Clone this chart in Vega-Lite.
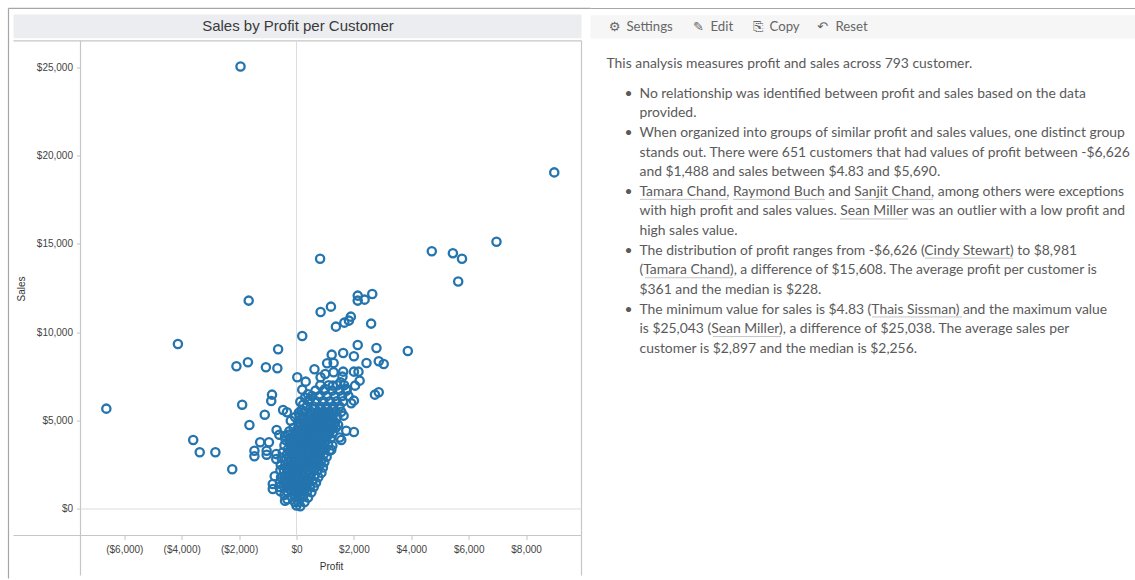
{"$schema":"https://vega.github.io/schema/vega-lite/v6.json","padding":{"left":7.5,"top":7.5,"right":0,"bottom":0},"background":"white","bounds":"flush","spacing":9,"config":{"view":{"stroke":null},"concat":{"spacing":9}},"datasets":{"customers":[{"p":-1951,"s":25043},{"p":8981,"s":19052},{"p":822,"s":14160},{"p":4714,"s":14590},{"p":5449,"s":14480},{"p":5766,"s":14160},{"p":6968,"s":15123},{"p":5634,"s":12877},{"p":-6626,"s":5680},{"p":-4132,"s":9341},{"p":-1666,"s":11794},{"p":840,"s":11152},{"p":1200,"s":11454},{"p":2133,"s":12077},{"p":2639,"s":12171},{"p":2133,"s":11794},{"p":2373,"s":11850},{"p":1893,"s":10888},{"p":1826,"s":10662},{"p":1666,"s":10548},{"p":1373,"s":10322},{"p":2600,"s":10492},{"p":200,"s":9794},{"p":-640,"s":9039},{"p":-2093,"s":8076},{"p":-1693,"s":8303},{"p":-1066,"s":8020},{"p":-667,"s":7963},{"p":3879,"s":8945},{"p":2133,"s":9284},{"p":2786,"s":9114},{"p":2000,"s":8642},{"p":1626,"s":8831},{"p":1226,"s":8737},{"p":2866,"s":8360},{"p":3039,"s":8208},{"p":2439,"s":8265},{"p":626,"s":7906},{"p":1066,"s":8246},{"p":1293,"s":8265},{"p":27,"s":7454},{"p":320,"s":7208},{"p":840,"s":7454},{"p":1000,"s":7643},{"p":1293,"s":7737},{"p":1626,"s":7774},{"p":2000,"s":7774},{"p":2160,"s":7774},{"p":1600,"s":7492},{"p":2200,"s":7265},{"p":2040,"s":6982},{"p":200,"s":6756},{"p":1000,"s":6793},{"p":1266,"s":6982},{"p":1533,"s":7170},{"p":1733,"s":6793},{"p":2866,"s":6605},{"p":2733,"s":6473},{"p":-853,"s":6473},{"p":-880,"s":6114},{"p":133,"s":6076},{"p":466,"s":6227},{"p":2000,"s":6133},{"p":1906,"s":5982},{"p":-1893,"s":5906},{"p":-467,"s":5604},{"p":-333,"s":5472},{"p":-1106,"s":5340},{"p":1640,"s":5284},{"p":-200,"s":5000},{"p":-1640,"s":4755},{"p":-693,"s":4472},{"p":-600,"s":4208},{"p":-400,"s":4151},{"p":1733,"s":4434},{"p":2000,"s":4359},{"p":-3599,"s":3906},{"p":-3372,"s":3208},{"p":-2826,"s":3208},{"p":-2239,"s":2245},{"p":-1266,"s":3774},{"p":-960,"s":3774},{"p":-1466,"s":3302},{"p":-1466,"s":2981},{"p":-1040,"s":3302},{"p":-1040,"s":3076},{"p":-706,"s":3113},{"p":-706,"s":2830},{"p":-760,"s":1849},{"p":-826,"s":1415},{"p":-826,"s":1132},{"p":-400,"s":472},{"p":1213,"s":3359},{"p":0,"s":200},{"p":-60,"s":400},{"p":70,"s":400},{"p":-170,"s":700},{"p":-30,"s":700},{"p":110,"s":700},{"p":230,"s":700},{"p":-330,"s":1000},{"p":-180,"s":1000},{"p":-40,"s":1000},{"p":100,"s":1000},{"p":240,"s":1000},{"p":370,"s":1000},{"p":-450,"s":1300},{"p":-300,"s":1300},{"p":-150,"s":1300},{"p":0,"s":1300},{"p":150,"s":1300},{"p":310,"s":1300},{"p":470,"s":1300},{"p":-420,"s":1600},{"p":-270,"s":1600},{"p":-100,"s":1600},{"p":60,"s":1600},{"p":220,"s":1600},{"p":390,"s":1600},{"p":550,"s":1600},{"p":-400,"s":1900},{"p":-230,"s":1900},{"p":-70,"s":1900},{"p":90,"s":1900},{"p":260,"s":1900},{"p":430,"s":1900},{"p":620,"s":1900},{"p":-440,"s":2200},{"p":-280,"s":2200},{"p":-110,"s":2200},{"p":70,"s":2200},{"p":240,"s":2200},{"p":410,"s":2200},{"p":590,"s":2200},{"p":740,"s":2200},{"p":-390,"s":2500},{"p":-210,"s":2500},{"p":-40,"s":2500},{"p":130,"s":2500},{"p":300,"s":2500},{"p":480,"s":2500},{"p":650,"s":2500},{"p":800,"s":2500},{"p":-360,"s":2800},{"p":-180,"s":2800},{"p":0,"s":2800},{"p":180,"s":2800},{"p":350,"s":2800},{"p":530,"s":2800},{"p":700,"s":2800},{"p":870,"s":2800},{"p":-330,"s":3100},{"p":-140,"s":3100},{"p":40,"s":3100},{"p":220,"s":3100},{"p":400,"s":3100},{"p":590,"s":3100},{"p":780,"s":3100},{"p":950,"s":3100},{"p":-290,"s":3400},{"p":-100,"s":3400},{"p":80,"s":3400},{"p":260,"s":3400},{"p":450,"s":3400},{"p":640,"s":3400},{"p":830,"s":3400},{"p":1000,"s":3400},{"p":-230,"s":3700},{"p":-40,"s":3700},{"p":140,"s":3700},{"p":330,"s":3700},{"p":520,"s":3700},{"p":710,"s":3700},{"p":900,"s":3700},{"p":1100,"s":3700},{"p":-190,"s":4000},{"p":20,"s":4000},{"p":210,"s":4000},{"p":400,"s":4000},{"p":590,"s":4000},{"p":780,"s":4000},{"p":980,"s":4000},{"p":1190,"s":4000},{"p":-60,"s":4300},{"p":120,"s":4300},{"p":310,"s":4300},{"p":510,"s":4300},{"p":700,"s":4300},{"p":900,"s":4300},{"p":1100,"s":4300},{"p":1270,"s":4300},{"p":60,"s":4600},{"p":250,"s":4600},{"p":440,"s":4600},{"p":640,"s":4600},{"p":840,"s":4600},{"p":1040,"s":4600},{"p":1240,"s":4600},{"p":1370,"s":4600},{"p":130,"s":4900},{"p":330,"s":4900},{"p":520,"s":4900},{"p":720,"s":4900},{"p":930,"s":4900},{"p":1130,"s":4900},{"p":1340,"s":4900},{"p":240,"s":5200},{"p":420,"s":5200},{"p":630,"s":5200},{"p":830,"s":5200},{"p":1040,"s":5200},{"p":1250,"s":5200},{"p":1420,"s":5200},{"p":290,"s":5500},{"p":500,"s":5500},{"p":740,"s":5500},{"p":950,"s":5500},{"p":1150,"s":5500},{"p":1360,"s":5500},{"p":1560,"s":5500},{"p":360,"s":5800},{"p":590,"s":5800},{"p":820,"s":5800},{"p":1040,"s":5800},{"p":1280,"s":5800},{"p":1500,"s":5800},{"p":430,"s":6100},{"p":680,"s":6100},{"p":930,"s":6100},{"p":1170,"s":6100},{"p":1400,"s":6100},{"p":1620,"s":6100},{"p":540,"s":6400},{"p":800,"s":6400},{"p":1060,"s":6400},{"p":1330,"s":6400},{"p":1590,"s":6400},{"p":1810,"s":6400},{"p":660,"s":6700},{"p":950,"s":6700},{"p":1240,"s":6700},{"p":1500,"s":6700},{"p":1750,"s":6700},{"p":830,"s":7000},{"p":1120,"s":7000},{"p":1420,"s":7000},{"p":1660,"s":7000},{"p":-100,"s":850},{"p":40,"s":850},{"p":170,"s":850},{"p":-250,"s":1150},{"p":-110,"s":1150},{"p":30,"s":1150},{"p":170,"s":1150},{"p":310,"s":1150},{"p":-370,"s":1450},{"p":-220,"s":1450},{"p":-70,"s":1450},{"p":80,"s":1450},{"p":230,"s":1450},{"p":390,"s":1450},{"p":-340,"s":1750},{"p":-180,"s":1750},{"p":-20,"s":1750},{"p":140,"s":1750},{"p":300,"s":1750},{"p":470,"s":1750},{"p":-310,"s":2050},{"p":-150,"s":2050},{"p":10,"s":2050},{"p":170,"s":2050},{"p":340,"s":2050},{"p":520,"s":2050},{"p":-360,"s":2350},{"p":-190,"s":2350},{"p":-20,"s":2350},{"p":150,"s":2350},{"p":320,"s":2350},{"p":500,"s":2350},{"p":670,"s":2350},{"p":-300,"s":2650},{"p":-120,"s":2650},{"p":50,"s":2650},{"p":220,"s":2650},{"p":390,"s":2650},{"p":570,"s":2650},{"p":740,"s":2650},{"p":-270,"s":2950},{"p":-90,"s":2950},{"p":90,"s":2950},{"p":270,"s":2950},{"p":440,"s":2950},{"p":620,"s":2950},{"p":790,"s":2950},{"p":-240,"s":3250},{"p":-50,"s":3250},{"p":130,"s":3250},{"p":310,"s":3250},{"p":500,"s":3250},{"p":690,"s":3250},{"p":870,"s":3250},{"p":-190,"s":3550},{"p":-10,"s":3550},{"p":170,"s":3550},{"p":360,"s":3550},{"p":550,"s":3550},{"p":740,"s":3550},{"p":930,"s":3550},{"p":-130,"s":3850},{"p":50,"s":3850},{"p":240,"s":3850},{"p":430,"s":3850},{"p":620,"s":3850},{"p":810,"s":3850},{"p":1010,"s":3850},{"p":-100,"s":4150},{"p":110,"s":4150},{"p":300,"s":4150},{"p":490,"s":4150},{"p":680,"s":4150},{"p":880,"s":4150},{"p":1080,"s":4150},{"p":30,"s":4450},{"p":210,"s":4450},{"p":400,"s":4450},{"p":600,"s":4450},{"p":800,"s":4450},{"p":1000,"s":4450},{"p":1190,"s":4450},{"p":150,"s":4750},{"p":340,"s":4750},{"p":540,"s":4750},{"p":740,"s":4750},{"p":940,"s":4750},{"p":1130,"s":4750},{"p":1300,"s":4750},{"p":230,"s":5050},{"p":430,"s":5050},{"p":620,"s":5050},{"p":830,"s":5050},{"p":1030,"s":5050},{"p":1240,"s":5050},{"p":530,"s":5350},{"p":730,"s":5350},{"p":940,"s":5350},{"p":1140,"s":5350},{"p":620,"s":5650},{"p":850,"s":5650},{"p":1060,"s":5650},{"p":1260,"s":5650},{"p":100,"s":5300},{"p":-50,"s":5200},{"p":180,"s":5600},{"p":80,"s":5450},{"p":230,"s":5900},{"p":300,"s":6300},{"p":400,"s":6500},{"p":60,"s":4900},{"p":-100,"s":4600},{"p":-250,"s":4400},{"p":-300,"s":4200},{"p":-380,"s":3900},{"p":-420,"s":3600},{"p":-480,"s":3200},{"p":-520,"s":2900},{"p":-550,"s":2500},{"p":-560,"s":2200},{"p":-540,"s":1800},{"p":-580,"s":1500},{"p":-600,"s":1250},{"p":-560,"s":1000},{"p":-420,"s":800},{"p":-320,"s":550},{"p":1250,"s":3600},{"p":1150,"s":3300},{"p":1050,"s":2950},{"p":970,"s":2650},{"p":920,"s":2350},{"p":870,"s":2050},{"p":760,"s":1800},{"p":680,"s":1500},{"p":600,"s":1250},{"p":520,"s":950},{"p":400,"s":650},{"p":280,"s":400},{"p":130,"s":150},{"p":1500,"s":4050},{"p":1450,"s":4750},{"p":1560,"s":3900}],"lines":[{"col":16,"row":0,"t":"This analysis measures profit and sales across 793 customer."},{"col":34,"row":1.5,"t":"•"},{"col":49,"row":1.5,"t":"No relationship was identified between profit and sales based on the data"},{"col":49,"row":2.5,"t":"provided."},{"col":34,"row":3.5,"t":"•"},{"col":49,"row":3.5,"t":"When organized into groups of similar profit and sales values, one distinct group"},{"col":49,"row":4.5,"t":"stands out. There were 651 customers that had values of profit between -$6,626"},{"col":49,"row":5.5,"t":"and $1,488 and sales between $4.83 and $5,690."},{"col":34,"row":6.5,"t":"•"},{"col":49,"row":6.5,"t":"Tamara Chand, Raymond Buch and Sanjit Chand, among others were exceptions"},{"col":49,"row":7.5,"t":"with high profit and sales values. Sean Miller was an outlier with a low profit and"},{"col":49,"row":8.5,"t":"high sales value."},{"col":34,"row":9.5,"t":"•"},{"col":49,"row":9.5,"t":"The distribution of profit ranges from -$6,626 (Cindy Stewart) to $8,981"},{"col":49,"row":10.5,"t":"(Tamara Chand), a difference of $15,608. The average profit per customer is"},{"col":49,"row":11.5,"t":"$361 and the median is $228."},{"col":34,"row":12.5,"t":"•"},{"col":49,"row":12.5,"t":"The minimum value for sales is $4.83 (Thais Sissman) and the maximum value"},{"col":49,"row":13.5,"t":"is $25,043 (Sean Miller), a difference of $25,038. The average sales per"},{"col":49,"row":14.5,"t":"customer is $2,897 and the median is $2,256."}],"links":[{"c1":50,"c2":137,"row":6.88},{"c1":143,"c2":235,"row":6.88},{"c1":265,"c2":343,"row":6.88},{"c1":250,"c2":318,"row":7.88},{"c1":335,"c2":423,"row":9.88},{"c1":55,"c2":142,"row":10.88},{"c1":282,"c2":371,"row":12.88},{"c1":123,"c2":190,"row":13.88}],"tools":[{"col":36,"t":"Settings"},{"col":120,"t":"Edit"},{"col":179,"t":"Copy"},{"col":245,"t":"Reset"}],"icons":[{"col":24,"t":"⚙"},{"col":108,"t":"✎"},{"col":167,"t":"⎘"},{"col":232,"t":"↶"}]},"hconcat":[{"width":501,"height":494,"title":{"text":"Sales by Profit per Customer","anchor":"middle","dx":-33,"dy":36,"offset":10,"font":"Liberation Sans","fontSize":15,"fontWeight":"normal","color":"#3a3a3a"},"layer":[{"data":{"values":[{"a":-9860,"b":9930,"c":26640,"d":27990}]},"mark":{"type":"rect","color":"#ebedf0"},"encoding":{"x":{"field":"a","type":"quantitative","scale":{"domain":[-7526,9930],"nice":false,"zero":false},"axis":{"title":"Profit","values":[-6000,-4000,-2000,0,2000,4000,6000,8000],"labelExpr":"datum.value<0?'($'+format(-datum.value,',')+')':'$'+format(datum.value,',')","domain":false,"grid":false,"tickColor":"#c4c4c4","tickSize":4,"labelFont":"Liberation Sans","labelFontSize":10,"labelColor":"#444","labelPadding":5,"titleFont":"Liberation Sans","titleFontSize":10,"titleFontWeight":"normal","titleColor":"#333","titlePadding":7}},"x2":{"field":"b"},"y":{"field":"c","type":"quantitative","scale":{"domain":[-1500,26460],"nice":false,"zero":false},"axis":{"title":"Sales","values":[0,5000,10000,15000,20000,25000],"labelExpr":"'$'+format(datum.value,',')","domain":false,"grid":false,"tickColor":"#c4c4c4","tickSize":4,"labelFont":"Liberation Sans","labelFontSize":10,"labelColor":"#444","labelPadding":4,"titleFont":"Liberation Sans","titleFontSize":10,"titleFontWeight":"normal","titleColor":"#333","titlePadding":10}},"y2":{"field":"d"}}},{"data":{"values":[{"a":-10035,"b":10243,"c":28340,"d":28340},{"a":-10035,"b":-10035,"c":28340,"d":-3934}]},"mark":{"type":"rule","color":"#a6a6a6","strokeWidth":1.2},"encoding":{"x":{"field":"a","type":"quantitative"},"x2":{"field":"b"},"y":{"field":"c","type":"quantitative"},"y2":{"field":"d"}}},{"data":{"values":[{"a":-9860,"b":9930,"c":26500,"d":26500},{"a":-9860,"b":9930,"c":-1500,"d":-1500},{"a":-7526,"b":-7526,"c":26500,"d":-3765},{"a":9930,"b":9930,"c":26500,"d":-3765}]},"mark":{"type":"rule","color":"#c6c6c6","strokeWidth":1.2},"encoding":{"x":{"field":"a","type":"quantitative"},"x2":{"field":"b"},"y":{"field":"c","type":"quantitative"},"y2":{"field":"d"}}},{"data":{"values":[{"a":0,"b":0,"c":26500,"d":-1500},{"a":-7526,"b":9930,"c":0,"d":0}]},"mark":{"type":"rule","color":"#dcdcdc","strokeWidth":1},"encoding":{"x":{"field":"a","type":"quantitative"},"x2":{"field":"b"},"y":{"field":"c","type":"quantitative"},"y2":{"field":"d"}}},{"data":{"name":"customers"},"mark":{"type":"point","shape":"circle","filled":false,"size":68,"strokeWidth":2.3,"color":"#2474ae","opacity":1},"encoding":{"x":{"field":"p","type":"quantitative"},"y":{"field":"s","type":"quantitative"}}}]},{"width":545,"height":494,"layer":[{"data":{"values":[{"a":0,"b":545,"c":-2.51,"d":-1.33}]},"mark":{"type":"rect","color":"#f6f6f6"},"encoding":{"x":{"field":"a","type":"quantitative","scale":{"domain":[0,545],"nice":false,"zero":false},"axis":null},"x2":{"field":"b"},"y":{"field":"c","type":"quantitative","scale":{"domain":[24.03,-1.173],"nice":false,"zero":false},"axis":null},"y2":{"field":"d"}}},{"data":{"values":[{"a":0,"b":545,"c":-2.857}]},"mark":{"type":"rule","color":"#a6a6a6","strokeWidth":1.2},"encoding":{"x":{"field":"a","type":"quantitative"},"x2":{"field":"b"},"y":{"field":"c","type":"quantitative"}}},{"data":{"name":"lines"},"mark":{"type":"text","font":"Lato","fontSize":13.9,"color":"#5a5a5a","align":"left","baseline":"middle"},"encoding":{"x":{"field":"col","type":"quantitative"},"y":{"field":"row","type":"quantitative"},"text":{"field":"t"}}},{"data":{"name":"links"},"mark":{"type":"rule","color":"#8a8a8a","strokeWidth":1,"strokeDash":[1,1]},"encoding":{"x":{"field":"c1","type":"quantitative"},"x2":{"field":"c2"},"y":{"field":"row","type":"quantitative"}}},{"data":{"name":"tools"},"transform":[{"calculate":"-1.89","as":"r"}],"mark":{"type":"text","font":"Lato","fontSize":13.2,"color":"#666","align":"left","baseline":"middle"},"encoding":{"x":{"field":"col","type":"quantitative"},"y":{"field":"r","type":"quantitative"},"text":{"field":"t"}}},{"data":{"name":"icons"},"transform":[{"calculate":"-1.89","as":"r"}],"mark":{"type":"text","font":"DejaVu Sans","fontSize":13,"color":"#666","align":"center","baseline":"middle"},"encoding":{"x":{"field":"col","type":"quantitative"},"y":{"field":"r","type":"quantitative"},"text":{"field":"t"}}}]}]}
